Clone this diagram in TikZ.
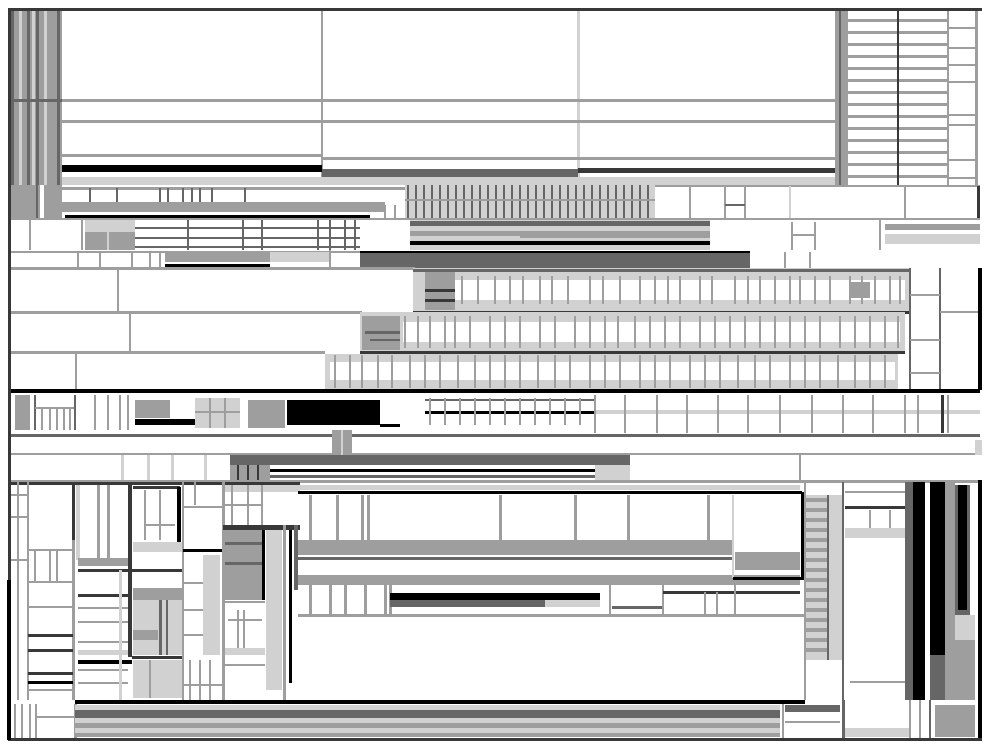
\documentclass[tikz,border=0pt]{standalone}
\colorlet{ga}{black!18}
\colorlet{gb}{black!38}
\colorlet{gc}{black!60}
\colorlet{gd}{black!78}
\newcommand\myB[5]{\fill[#1] (#2,#3) rectangle (#4,#5);}
\newcommand\myH[5]{\draw[#1,line width=#5pt] (#2,#4) -- (#3,#4);}
\newcommand\myV[5]{\draw[#1,line width=#5pt] (#2,#3) -- (#2,#4);}
\begin{document}
\begin{tikzpicture}[x=1pt,y=-1pt]
\useasboundingbox (0,0) rectangle (990,747);
\fill[white] (0,0) rectangle (990,747);
% ===== top region =====
\myB{gb}{8}{10}{62}{185}
\foreach \x/\cc in {12/gc,20/ga,28/gc,33/ga,37/gc,45/ga,52/gb,58/gc} {\myV{\cc}{\x}{10}{185}{3}}
\myH{gc}{8}{62}{100}{3}
\myV{gb}{322}{10}{185}{2.5}
\myV{ga}{578}{10}{185}{3}
\myH{gb}{62}{838}{100}{3}
\myH{gb}{62}{838}{121}{3}
\myH{gb}{62}{322}{155}{3}
\myH{gb}{322}{838}{158}{3}
\myB{black}{62}{165}{322}{172}
\myB{gc}{322}{169}{578}{177}
\myB{gd}{578}{168}{838}{173}
\myB{ga}{62}{177}{838}{185}
\myB{gb}{835}{10}{848}{185}
\myV{gc}{840}{10}{185}{2}
\foreach \y in {20,32,...,180} {\myH{gb}{848}{948}{\y}{3}}
\myV{gd}{898}{10}{185}{2.5}
\myV{gb}{948}{10}{185}{2.5}
\myV{gb}{976}{10}{185}{3}
\foreach \y in {28,48,65,82,115,125,160,178} {\myH{gb}{948}{975}{\y}{2}}
% ===== row 2 =====
\myB{gb}{8}{185}{62}{218}
\myV{white}{42}{185}{218}{4}
\myV{gc}{37}{185}{218}{2}
\myH{gb}{62}{405}{188}{3}
\foreach \x in {90,117,160,168,183,192,200,212,245} {\myV{gc}{\x}{188}{204}{2.5}}
\myB{gb}{62}{202}{385}{212}
\myH{black}{65}{370}{216}{3}
\myV{gb}{385}{205}{218}{2}
\myV{gb}{395}{205}{218}{2}
\myB{ga}{405}{185}{655}{218}
\foreach \x in {408,416,...,655} {\myV{gc}{\x}{185}{218}{2}}
\myH{gb}{405}{655}{200}{2}
\myH{gb}{655}{980}{186}{2}
\myV{gb}{690}{186}{218}{2}
\myV{gb}{725}{186}{218}{2}
\myV{gb}{745}{186}{218}{2}
\myH{gc}{725}{745}{205}{2}
\myV{ga}{790}{186}{218}{2}
\myV{gb}{905}{186}{218}{2}
\myV{gd}{978}{186}{218}{3}
\myH{gb}{8}{980}{219}{2}
% ===== row 3 =====
\myV{gb}{30}{220}{250}{2}
\myV{gb}{82}{220}{250}{2}
\myB{ga}{85}{220}{135}{232}
\myB{gb}{85}{232}{135}{250}
\myV{ga}{108}{232}{250}{2}
\foreach \y in {228,238,247} {\myH{gc}{135}{360}{\y}{2.5}}
\foreach \x in {188,243,262,318,330,345,355} {\myV{gc}{\x}{220}{250}{2}}
\myB{ga}{410}{220}{710}{250}
\myH{gc}{410}{710}{223}{5}
\myH{gb}{410}{710}{233}{5}
\myH{gb}{520}{710}{236}{3}
\myH{black}{410}{710}{243}{4}
\myV{gb}{792}{222}{250}{2}
\myV{gb}{815}{222}{250}{2}
\myH{gb}{792}{815}{235}{2}
\myV{gb}{880}{220}{250}{2.5}
\myB{gb}{885}{224}{980}{230}
\myB{ga}{885}{234}{980}{244}
% ===== row 250-268 =====
\myH{gb}{8}{360}{252}{2}
\foreach \x in {78,100,132,150,160} {\myV{gb}{\x}{252}{268}{2}}
\myB{gb}{165}{252}{270}{262}
\myH{black}{165}{270}{265}{3}
\myB{ga}{270}{252}{330}{262}
\myV{gb}{330}{250}{268}{2}
\myB{gc}{360}{252}{750}{268}
\myH{black}{360}{750}{252}{2}
\myV{gb}{785}{252}{268}{2}
\myV{gb}{810}{252}{268}{2}
% ===== middle block =====
\myH{gb}{8}{415}{268}{3}
\myH{gb}{8}{362}{312}{3}
\myH{gb}{8}{325}{352}{3}
\myV{gb}{118}{268}{312}{2.5}
\myV{gb}{130}{312}{352}{2.5}
\myV{gb}{76}{352}{390}{2.5}
% row a
\myB{ga}{413}{268}{910}{312}
\myB{white}{455}{280}{905}{300}
\myH{gc}{413}{910}{270}{3}
\myH{gd}{413}{910}{312}{3}
\myB{gb}{850}{282}{870}{298}
\foreach \x in {462,478,495,510,523,540,552,568,590,603,620,640,655,668,680,700,712,735,748,760,775,790,800,815,830,850,862,875,890,900} {\myV{gb}{\x}{276}{304}{2}}
\myB{gb}{425}{272}{455}{310}
\myH{gd}{425}{455}{290}{3}
\myH{gd}{425}{455}{300}{3}
% row b
\myB{ga}{360}{312}{905}{352}
\myB{white}{403}{322}{900}{342}
\myH{gd}{360}{905}{352}{3}
\myB{gb}{362}{316}{400}{350}
\myH{gc}{365}{400}{332}{3}
\myH{gc}{370}{400}{340}{2}
\foreach \x in {405,418,430,445,455,470,490,505,520,540,555,575,590,605,618,635,650,665,680,700,715,730,745,760,775,790,805,820,840,855,870,885,898} {\myV{gb}{\x}{316}{348}{2}}
% row c
\myB{ga}{325}{354}{898}{390}
\myB{white}{330}{362}{895}{380}
\foreach \x in {335,350,362,378,392,410,425,440,458,475,490,505,520,538,555,570,590,605,620,640,655,670,690,705,720,738,755,770,790,805,820,838,855,870,885} {\myV{gb}{\x}{355}{388}{2}}
\myV{gc}{910}{268}{390}{2}
\myV{gc}{940}{268}{390}{2.5}
\myH{gb}{910}{940}{295}{2}
\myH{gb}{910}{940}{340}{2}
\myH{gb}{910}{940}{373}{2}
\myH{gb}{940}{980}{312}{2}
\myV{black}{980}{268}{390}{4}
\myH{black}{8}{980}{391}{3.5}
% ===== row 392-433 =====
\myB{gb}{15}{395}{30}{430}
\myV{gc}{35}{395}{430}{2}
\foreach \x in {42,50,57,64,70} {\myV{gb}{\x}{408}{430}{2}}
\myH{gb}{35}{75}{408}{2}
\myV{gc}{75}{395}{430}{2}
\foreach \x in {95,108,120,128} {\myV{gb}{\x}{395}{430}{2}}
\myB{gb}{135}{400}{170}{418}
\myB{black}{135}{419}{195}{425}
\myB{ga}{195}{398}{240}{428}
\myV{gb}{210}{398}{428}{2}
\myV{gb}{225}{398}{428}{2}
\myH{gb}{195}{240}{412}{2}
\myB{gb}{248}{400}{285}{428}
\myB{black}{287}{400}{380}{425}
\myH{black}{380}{400}{425}{3}
\myH{gc}{425}{595}{400}{2}
\myH{black}{425}{595}{412}{3}
\foreach \x in {430,445,460,475,490,505,520,535,550,565,580} {\myV{gb}{\x}{398}{425}{2}}
\myH{ga}{595}{980}{412}{4}
\foreach \x in {595,625,657,687,718,748,780,812,843,873,905,918,948} {\myV{gb}{\x}{395}{433}{2.5}}
\myV{gd}{942}{395}{433}{3}
\myH{gc}{8}{980}{435}{3}
% ===== row 437-480 =====
\myH{gb}{8}{980}{454}{2}
\myB{gb}{332}{430}{352}{455}
\myV{ga}{342}{430}{455}{2}
\myB{ga}{975}{440}{982}{455}
\foreach \x in {122,148,172,205} {\myV{ga}{\x}{455}{480}{3}}
\myB{gc}{230}{455}{630}{465}
\myB{gb}{230}{465}{270}{480}
\foreach \x in {238,248,258} {\myV{gd}{\x}{465}{480}{2}}
\myH{black}{270}{595}{470}{3}
\myH{gc}{270}{595}{476}{3}
\myB{ga}{595}{465}{630}{480}
\myV{gb}{800}{455}{480}{2}
\myH{gb}{8}{980}{481}{3}
% ===== bottom-left mosaic =====
\myH{gd}{8}{300}{483}{3}
\myV{gb}{18}{482}{700}{2}
\myV{gb}{28}{482}{700}{2.5}
\myH{gb}{8}{28}{495}{2}
\myH{gb}{8}{28}{517}{2}
\myH{gb}{8}{28}{560}{2}
\myV{gd}{73}{482}{540}{3}
\myV{gb}{73}{540}{700}{3}
\myH{gb}{28}{73}{550}{2}
\foreach \x in {35,50,57} {\myV{gb}{\x}{550}{582}{2}}
\myH{gb}{28}{73}{582}{2}
\myH{gb}{28}{73}{607}{2}
\myH{gd}{28}{73}{635}{3}
\myH{gd}{28}{73}{650}{3}
\myH{gd}{28}{73}{673}{3}
\myH{black}{28}{73}{682}{3}
\myH{gb}{28}{73}{690}{2}
\myB{ga}{76}{485}{80}{560}
\myV{gb}{98}{485}{560}{3}
\myV{gb}{108}{485}{560}{3}
\myB{gb}{78}{558}{128}{566}
\myH{gd}{78}{183}{570}{3}
\myH{gd}{78}{132}{595}{3}
\myH{gb}{78}{128}{608}{2}
\myH{gb}{78}{128}{622}{2}
\myH{gb}{78}{128}{642}{2}
\myB{ga}{78}{650}{128}{655}
\myH{black}{78}{132}{662}{4}
\myH{gb}{78}{128}{670}{2}
\myH{gb}{78}{128}{683}{2}
\myV{ga}{120}{570}{700}{3}
\myV{gd}{130}{482}{657}{4}
\myH{gd}{133}{180}{487}{3}
\myV{black}{179}{487}{545}{4}
\myV{gb}{145}{490}{540}{2}
\myV{gb}{160}{490}{540}{2}
\myH{gb}{145}{175}{525}{2}
\myB{ga}{133}{542}{183}{552}
\myB{gb}{133}{588}{183}{600}
\myB{ga}{133}{600}{183}{655}
\myV{gc}{160}{600}{655}{3}
\myV{gc}{167}{600}{655}{2}
\myB{gb}{133}{630}{158}{640}
\myH{gd}{132}{183}{657}{3}
\myB{ga}{133}{660}{183}{698}
\myV{gb}{150}{660}{698}{2}
\myV{gb}{183}{482}{700}{2}
\myH{gb}{183}{222}{507}{2}
\myV{gb}{195}{482}{505}{2}
\myH{black}{183}{222}{550}{3}
\myB{ga}{203}{555}{220}{655}
\myH{gb}{183}{203}{583}{2}
\myH{gb}{183}{203}{610}{2}
\myH{gb}{183}{203}{635}{2}
\foreach \x in {190,200,210} {\myV{gb}{\x}{660}{700}{2}}
\myH{gb}{183}{222}{685}{2}
\myV{gb}{223}{482}{700}{3}
\myB{ga}{225}{485}{300}{492}
\foreach \x in {232,248,262} {\myV{gb}{\x}{485}{525}{2}}
\myH{gb}{225}{262}{505}{2}
\myH{gd}{223}{300}{527}{5}
\myB{gb}{225}{530}{262}{600}
\myH{gc}{225}{262}{543}{3}
\myH{gc}{225}{262}{563}{3}
\myV{black}{263}{530}{600}{3}
\myB{ga}{266}{530}{282}{690}
\myV{gb}{284}{525}{700}{3}
\myV{black}{290}{530}{683}{3}
\myB{gc}{294}{525}{298}{590}
\myH{gb}{225}{265}{602}{2}
\myV{gb}{238}{610}{650}{2}
\myV{gb}{244}{610}{650}{2}
\myH{gb}{228}{262}{620}{2}
\myB{ga}{225}{648}{265}{655}
\myH{gb}{225}{265}{665}{2}
% ===== bottom-middle box =====
\myB{ga}{298}{485}{800}{490}
\myH{black}{298}{802}{492}{3}
\foreach \x in {310,337,362,368,500,575,628,708} {\myV{gb}{\x}{495}{540}{3}}
\myB{gb}{298}{540}{733}{555}
\myH{gc}{298}{733}{558}{3}
\myB{gb}{298}{575}{800}{585}
\myV{ga}{733}{495}{578}{2}
\myB{gb}{735}{552}{800}{570}
\myH{black}{733}{802}{578}{3}
\myV{black}{802}{492}{580}{3}
\foreach \x in {310,330,345,365,385,390} {\myV{gb}{\x}{585}{615}{3}}
\myB{black}{390}{593}{600}{600}
\myB{gc}{390}{600}{545}{607}
\myB{ga}{545}{600}{600}{607}
\myH{gc}{612}{663}{607}{3}
\myV{gb}{610}{585}{615}{2}
\myV{gb}{663}{585}{615}{2}
\myH{gd}{663}{800}{592}{3}
\myV{gb}{705}{592}{615}{2}
\myV{gb}{717}{592}{615}{2}
\myV{gb}{735}{585}{615}{2}
\myH{gb}{298}{805}{615}{3}
\myH{black}{75}{805}{702}{4}
% ===== right bottom columns =====
\myB{ga}{805}{495}{843}{660}
\foreach \y in {500,510,...,650} {\myH{gb}{805}{828}{\y}{4}}
\myV{gc}{828}{495}{660}{2}
\myV{gc}{843}{482}{700}{2.5}
\myV{gb}{805}{482}{700}{2}
\myH{gb}{845}{905}{492}{2}
\myH{gd}{845}{905}{507}{3}
\myB{ga}{845}{528}{905}{538}
\myV{gb}{870}{510}{528}{2}
\myV{gb}{890}{510}{528}{2}
\myH{gb}{850}{905}{682}{2.5}
\myB{gc}{905}{482}{913}{700}
\myB{black}{913}{482}{925}{700}
\myB{black}{930}{482}{945}{655}
\myB{gc}{930}{655}{945}{700}
\myB{gb}{945}{482}{955}{700}
\myB{gc}{955}{485}{970}{615}
\myB{black}{958}{485}{967}{610}
\myB{ga}{955}{615}{975}{640}
\myB{gb}{955}{640}{975}{700}
\myV{black}{980}{480}{740}{4}
% ===== bottom row =====
\foreach \x in {15,22,30,36} {\myV{gb}{\x}{704}{738}{2}}
\myH{gb}{36}{75}{717}{2}
\myV{gb}{75}{704}{738}{3}
\myB{ga}{75}{705}{780}{710}
\myB{gc}{75}{710}{780}{718}
\myB{ga}{75}{718}{780}{723}
\myB{gb}{75}{723}{780}{728}
\myB{ga}{75}{728}{780}{733}
\myB{gb}{75}{733}{780}{737}
\myV{gb}{783}{704}{738}{2}
\myB{gc}{785}{705}{840}{712}
\myH{gb}{785}{840}{722}{2}
\myV{gc}{843}{700}{738}{3}
\myB{ga}{845}{728}{910}{737}
\myV{gb}{910}{700}{738}{2}
\myV{gb}{920}{700}{738}{2}
\myV{gc}{930}{700}{738}{2}
\myB{gb}{935}{705}{975}{737}
% ===== frame =====
\myH{gd}{8}{982}{9}{3}
\myH{gd}{8}{982}{739}{3}
\myV{gd}{9}{8}{740}{3}
\myV{black}{9}{580}{740}{4}
\end{tikzpicture}
\end{document}
